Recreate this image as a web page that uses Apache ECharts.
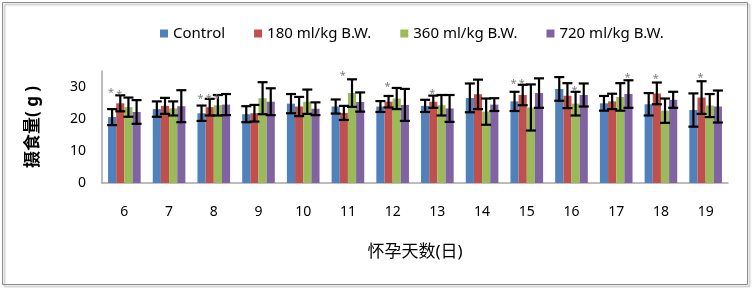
<!DOCTYPE html>
<html>
<head>
<meta charset="utf-8">
<script src="https://cdn.jsdelivr.net/npm/echarts@6/dist/echarts.min.js"></script>
<style>
html, body { margin: 0; padding: 0; background: #fff; }
#main { width: 753px; height: 288px; }
</style>
</head>
<body>
<div id="main"></div>
<script>
// 怀孕天数
var days = ['6', '7', '8', '9', '10', '11', '12', '13', '14', '15', '16', '17', '18', '19'];

// 摄食量 均值 / 误差
var control    = [20.6, 23.1, 21.8, 21.5, 24.8, 23.9, 23.9, 24.1, 26.6, 25.5, 29.4, 24.9, 24.6, 22.8];
var controlErr = [2.5, 2.4, 2.4, 2.5, 3.0, 2.2, 1.7, 1.9, 4.5, 3.0, 3.7, 2.3, 3.5, 5.2];
var dose180    = [24.9, 24.1, 23.7, 21.8, 23.9, 21.9, 25.4, 25.4, 27.7, 27.5, 27.3, 25.5, 28.0, 26.7];
var dose180Err = [2.5, 2.5, 2.6, 2.6, 3.0, 2.2, 1.8, 1.9, 4.6, 3.2, 3.9, 2.4, 3.4, 5.1];
var dose360    = [23.7, 23.3, 24.3, 26.5, 25.4, 28.1, 26.4, 24.3, 22.3, 23.6, 24.8, 26.9, 22.6, 24.2];
var dose360Err = [3.0, 2.2, 3.2, 5.0, 3.8, 4.3, 3.3, 3.2, 4.1, 7.2, 3.7, 4.3, 3.8, 3.6];
var dose720    = [22.2, 24.0, 24.5, 25.4, 23.2, 25.3, 24.4, 23.3, 24.5, 28.1, 27.5, 27.8, 26.0, 23.9];
var dose720Err = [3.7, 5.0, 3.3, 4.2, 2.0, 3.0, 5.0, 4.2, 2.0, 4.6, 3.6, 4.3, 2.5, 5.0];

// 星号高度 (null = 无)
var controlStar = [29.0, null, 27.3, null, null, null, null, null, null, 31.9, null, null, null, null];
var dose180Star = [28.4, null, 27.3, null, null, 34.3, 31.1, 28.7, null, 31.9, null, null, 33.4, 33.7];
var dose360Star = [null, null, 27.3, null, null, null, null, null, null, null, 29.8, null, null, null];
var dose720Star = [null, null, null, null, null, null, null, null, null, null, null, 33.8, null, null];

var yTicks = [0, 10, 20, 30];

var groups = [
    { name: 'Control',        mean: control, err: controlErr, star: controlStar, color: '#4F81BD' },
    { name: '180 ml/kg B.W.', mean: dose180, err: dose180Err, star: dose180Star, color: '#C0504D' },
    { name: '360 ml/kg B.W.', mean: dose360, err: dose360Err, star: dose360Star, color: '#9BBB59' },
    { name: '720 ml/kg B.W.', mean: dose720, err: dose720Err, star: dose720Star, color: '#8064A2' }
];

var CAT_GAP = 0.27;
var FONT = '"Noto Sans", "Noto Sans CJK SC", sans-serif';

var myChart = echarts.init(document.getElementById('main'));

// 每个柱子在类目内的偏移
function barOffset(api, gi) {
    var band = api.size([1, 0])[0];
    var bw = band * (1 - CAT_GAP) / groups.length;
    return (gi - (groups.length - 1) / 2) * bw;
}

function renderError(params, api) {
    var gi = api.value(1);
    var hi = api.coord([api.value(0), api.value(3)]);
    var lo = api.coord([api.value(0), api.value(2)]);
    var x = hi[0] + barOffset(api, gi);
    var cap = 5;
    var style = { stroke: '#000', lineWidth: 2.2 };
    return {
        type: 'group',
        children: [
            { type: 'line', shape: { x1: x, y1: hi[1], x2: x, y2: lo[1] }, style: style },
            { type: 'line', shape: { x1: x - cap, y1: hi[1], x2: x + cap, y2: hi[1] }, style: style },
            { type: 'line', shape: { x1: x - cap, y1: lo[1], x2: x + cap, y2: lo[1] }, style: style }
        ]
    };
}

function renderStar(params, api) {
    var gi = api.value(1);
    var p = api.coord([api.value(0), api.value(2)]);
    return {
        type: 'text',
        x: p[0] + barOffset(api, gi) - 1,
        y: p[1] + 3,
        style: {
            text: '*', fill: '#7f7f7f', fontSize: 11, fontFamily: FONT,
            align: 'center', verticalAlign: 'middle'
        }
    };
}

var errData = [], starData = [];
groups.forEach(function (g, gi) {
    g.mean.forEach(function (v, i) {
        errData.push([i, gi, v - g.err[i], v + g.err[i]]);
        if (g.star[i] != null) starData.push([i, gi, g.star[i]]);
    });
});

var series = groups.map(function (g) {
    return {
        name: g.name,
        type: 'bar',
        barGap: '0%',
        barCategoryGap: (CAT_GAP * 100) + '%',
        itemStyle: { color: g.color },
        data: g.mean
    };
});
series.push({
    type: 'custom', name: 'err', renderItem: renderError,
    encode: { x: 0, y: [2, 3] }, data: errData, z: 5, silent: true
});
series.push({
    type: 'custom', name: 'star', renderItem: renderStar,
    encode: { x: 0, y: 2 }, data: starData, z: 5, silent: true
});

var option = {
    backgroundColor: '#fff',
    animation: false,
    textStyle: { fontFamily: FONT },
    graphic: [{
        type: 'rect', silent: true, z: -10,
        shape: { x: 2.5, y: 2.5, width: 745, height: 282 },
        style: {
            fill: 'none', stroke: '#8c8c8c', lineWidth: 1,
            shadowBlur: 2, shadowOffsetX: 2, shadowOffsetY: 2, shadowColor: 'rgba(0,0,0,0.35)'
        }
    }],
    legend: {
        data: groups.map(function (g) { return g.name; }),
        left: 155,
        top: 21,
        icon: 'rect',
        itemWidth: 8,
        itemHeight: 8,
        itemGap: 29,
        textStyle: { fontSize: 15, color: '#000', fontFamily: FONT }
    },
    grid: {
        left: 102,
        right: 25,
        top: 71,
        bottom: 105
    },
    xAxis: {
        type: 'category',
        data: days,
        name: '怀孕天数(日)',
        nameLocation: 'middle',
        nameGap: 61,
        nameTextStyle: { fontSize: 17, color: '#000', fontFamily: FONT },
        axisLine: { lineStyle: { color: '#a6a6a6', width: 1.5 } },
        axisTick: { show: false },
        axisLabel: { margin: 22, fontSize: 14, color: '#000' }
    },
    yAxis: {
        type: 'value',
        min: yTicks[0],
        max: 35,
        interval: yTicks[1] - yTicks[0],
        name: '摄食量( g )',
        nameLocation: 'middle',
        nameGap: 60,
        nameRotate: 90,
        nameTextStyle: { fontSize: 17, fontWeight: 'bold', color: '#000', fontFamily: FONT },
        axisLine: { show: true, lineStyle: { color: '#a6a6a6', width: 1.5 } },
        axisTick: { show: false },
        splitLine: { show: false },
        axisLabel: { margin: 16, fontSize: 14, color: '#000', showMaxLabel: false }
    },
    series: series
};
myChart.setOption(option);
</script>
</body>
</html>
